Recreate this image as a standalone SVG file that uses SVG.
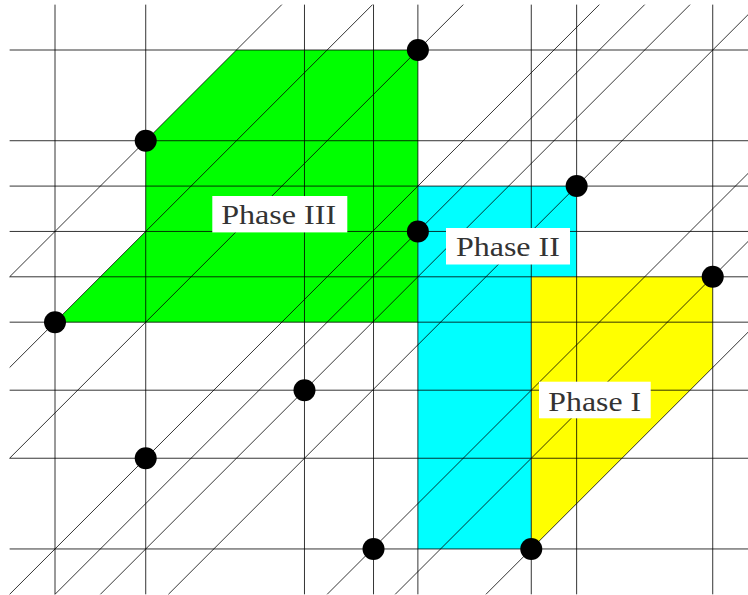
<svg xmlns="http://www.w3.org/2000/svg" width="748" height="595" viewBox="0 0 748 595">
<style>
.grid line{stroke:#000;stroke-width:0.8;fill:none}
.diag line{stroke:#000;stroke-width:0.8;fill:none}
.dot{fill:#000}
.lbl rect{fill:#fff}
.lbl text{font-family:"Liberation Serif","Times New Roman",serif;font-size:28px;fill:#333;text-anchor:middle}
</style>
<rect width="748" height="595" fill="#fff"/>
<g id="regions">
<polygon id="phase3-region" points="55,322.16 145.72,231.44 145.72,140.72 236.44,50 417.88,50 417.88,322.16" fill="#00ff00"/>
<polygon id="phase2-region" points="417.88,186.08 576.64,186.08 576.64,276.8 531.28,276.8 531.28,548.96 417.88,548.96" fill="#00ffff"/>
<polygon id="phase1-region" points="531.28,276.8 712.72,276.8 712.72,367.52 531.28,548.96" fill="#ffff00"/>
</g>
<g id="grid" class="grid">
<line x1="9.64" y1="50" x2="758" y2="50"/>
<line x1="9.64" y1="140.72" x2="758" y2="140.72"/>
<line x1="9.64" y1="186.08" x2="758" y2="186.08"/>
<line x1="9.64" y1="231.44" x2="758" y2="231.44"/>
<line x1="9.64" y1="276.8" x2="758" y2="276.8"/>
<line x1="9.64" y1="322.16" x2="758" y2="322.16"/>
<line x1="9.64" y1="390.2" x2="758" y2="390.2"/>
<line x1="9.64" y1="458.24" x2="758" y2="458.24"/>
<line x1="9.64" y1="548.96" x2="758" y2="548.96"/>
<line x1="55" y1="4.64" x2="55" y2="594.3"/>
<line x1="145.72" y1="4.64" x2="145.72" y2="594.3"/>
<line x1="304.48" y1="4.64" x2="304.48" y2="594.3"/>
<line x1="373.52" y1="4.64" x2="373.52" y2="594.3"/>
<line x1="417.88" y1="4.64" x2="417.88" y2="594.3"/>
<line x1="531.28" y1="4.64" x2="531.28" y2="594.3"/>
<line x1="576.64" y1="4.64" x2="576.64" y2="594.3"/>
<line x1="712.72" y1="4.64" x2="712.72" y2="594.3"/>
</g>
<g id="connectors" class="diag">
<line x1="281.8" y1="4.64" x2="9.64" y2="276.8"/>
<line x1="372.52" y1="4.64" x2="9.64" y2="367.52"/>
<line x1="463.24" y1="4.64" x2="9.64" y2="458.24"/>
<line x1="599.32" y1="4.64" x2="9.64" y2="594.32"/>
<line x1="644.68" y1="4.64" x2="55.02" y2="594.3"/>
<line x1="690.04" y1="4.64" x2="100.38" y2="594.3"/>
<line x1="758" y1="4.72" x2="168.42" y2="594.3"/>
<line x1="758" y1="163.48" x2="327.18" y2="594.3"/>
<line x1="758" y1="231.52" x2="395.22" y2="594.3"/>
<line x1="758" y1="322.24" x2="485.94" y2="594.3"/>
</g>
<g id="points">
<circle id="p1" class="dot" cx="417.88" cy="50" r="11"/>
<circle id="p2" class="dot" cx="145.72" cy="140.72" r="11"/>
<circle id="p3" class="dot" cx="576.64" cy="186.08" r="11"/>
<circle id="p4" class="dot" cx="417.88" cy="231.44" r="11"/>
<circle id="p5" class="dot" cx="712.72" cy="276.8" r="11"/>
<circle id="p6" class="dot" cx="55" cy="322.16" r="11"/>
<circle id="p7" class="dot" cx="304.48" cy="390.2" r="11"/>
<circle id="p8" class="dot" cx="145.72" cy="458.24" r="11"/>
<circle id="p9" class="dot" cx="373.52" cy="548.96" r="11"/>
<circle id="p10" class="dot" cx="531.28" cy="548.96" r="11"/>
</g>
<g id="label-phase3" class="lbl">
<rect x="212.3" y="196" width="135" height="36.4"/>
<text x="278.7" y="224.3" textLength="115" lengthAdjust="spacingAndGlyphs">Phase III</text>
</g>
<g id="label-phase2" class="lbl">
<rect x="446" y="228" width="124" height="36.5"/>
<text x="507.9" y="256.3" textLength="104" lengthAdjust="spacingAndGlyphs">Phase II</text>
</g>
<g id="label-phase1" class="lbl">
<rect x="539" y="381.7" width="111.7" height="36.6"/>
<text x="594.7" y="411" textLength="92.7" lengthAdjust="spacingAndGlyphs">Phase I</text>
</g>
</svg>
